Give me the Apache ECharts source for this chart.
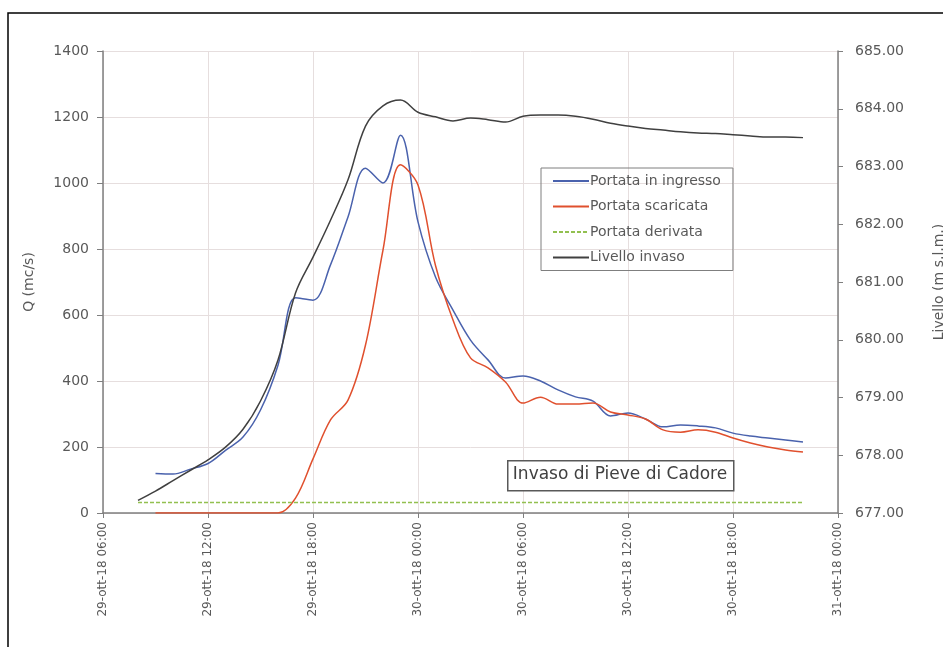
<!DOCTYPE html>
<html>
<head>
<meta charset="utf-8">
<script src="https://cdn.jsdelivr.net/npm/echarts@6/dist/echarts.min.js"></script>
<style>
html, body { margin: 0; padding: 0; background: #fff; }
#chart { width: 943px; height: 647px; }
</style>
</head>
<body>
<div id="chart"></div>
<script>
// ore dal 29-ott-18 00:00
var hours = [8, 9, 10, 11, 12, 13, 14, 15, 16, 17, 18, 19, 20, 21, 22, 23, 24, 25, 26, 27,
    28, 29, 30, 31, 32, 33, 34, 35, 36, 37, 38, 39, 40, 41, 42, 43, 44, 45, 46];

var xTickLabels = ['29-ott-18 06:00', '29-ott-18 12:00', '29-ott-18 18:00', '30-ott-18 00:00',
    '30-ott-18 06:00', '30-ott-18 12:00', '30-ott-18 18:00', '31-ott-18 00:00'];

// Portata in ingresso (mc/s)
var qIngresso = [null, 120, 118, 133, 150, 190, 230, 312, 448, 652, 645, 752, 897, 1045, 1000, 1145,
    882, 715, 615, 524, 464, 409, 415, 400, 373, 352, 339, 294, 303, 285, 261, 267, 264, 258,
    242, 233, 227, 221, 215];

// Portata scaricata (mc/s)
var qScaricata = [null, 0, 0, 0, 0, 0, 0, 0, 0, 45, 164, 282, 342, 509, 797, 1055,
    994, 750, 585, 470, 440, 397, 333, 351, 330, 330, 333, 306, 297, 285, 252, 245, 252, 245,
    227, 212, 200, 191, 185];

// Portata derivata (mc/s)
var qDerivata = [32, 32, 32, 32, 32, 32, 32, 32, 32, 32, 32, 32, 32, 32, 32, 32, 32, 32, 32, 32,
    32, 32, 32, 32, 32, 32, 32, 32, 32, 32, 32, 32, 32, 32, 32, 32, 32, 32, 32];

// Livello invaso (m s.l.m.)
var livello = [677.22, 677.38, 677.56, 677.74, 677.92, 678.14, 678.45, 678.94, 679.65, 680.81,
    681.43, 682.07, 682.77, 683.70, 684.05, 684.15, 683.94, 683.86, 683.79, 683.84, 683.81,
    683.77, 683.87, 683.89, 683.89, 683.87, 683.82, 683.75, 683.70, 683.66, 683.63, 683.60,
    683.58, 683.57, 683.55, 683.53, 683.51, 683.51, 683.50];

function pairs(vals) {
    var out = [];
    for (var i = 0; i < hours.length; i++) {
        if (vals[i] !== null) out.push([hours[i], vals[i]]);
    }
    return out;
}

var myChart = echarts.init(document.getElementById('chart'));
var txt = '#595959';
var gridCol = '#e6dede';
var font = 'DejaVu Sans';

var option = {
    animation: false,
    backgroundColor: '#fff',
    textStyle: { fontFamily: font },
    grid: { left: 103, right: 105, top: 51, bottom: 134, containLabel: false, outerBoundsMode: 'none' },
    legend: {
        orient: 'vertical',
        left: 541,
        top: 168,
        padding: [6, 12, 6, 11],
        itemGap: 11.5,
        itemWidth: 36,
        itemHeight: 17,
        borderColor: '#7f7f7f',
        borderWidth: 1,
        itemStyle: { opacity: 0 },
        textStyle: { color: txt, fontSize: 14, fontFamily: font, padding: [0, 0, 0, -4] },
        data: ['Portata in ingresso', 'Portata scaricata', 'Portata derivata', 'Livello invaso']
    },
    xAxis: {
        type: 'value',
        min: 6,
        max: 48,
        interval: 6,
        axisLine: { lineStyle: { color: '#7f7f7f', width: 1.5 } },
        axisTick: { show: true, length: 5, lineStyle: { color: '#7f7f7f' } },
        axisLabel: {
            rotate: 90,
            color: txt,
            fontSize: 12,
            margin: 9,
            formatter: function (v) {
                return xTickLabels[Math.round((v - 6) / 6)];
            }
        },
        splitLine: { show: true, lineStyle: { color: gridCol } }
    },
    yAxis: [
        {
            type: 'value',
            min: 0,
            max: 1400,
            interval: 200,
            name: 'Q (mc/s)',
            nameLocation: 'middle',
            nameGap: 67,
            nameTextStyle: { color: txt, fontSize: 14 },
            axisLine: { show: true, lineStyle: { color: '#7f7f7f', width: 1.5 } },
            axisTick: { show: true, length: 6, lineStyle: { color: '#7f7f7f' } },
            axisLabel: {
                color: txt,
                fontSize: 14,
                margin: 14,
                formatter: function (v) { return String(v); }
            },
            splitLine: { show: true, lineStyle: { color: gridCol } }
        },
        {
            type: 'value',
            min: 677,
            max: 685,
            interval: 1,
            name: 'Livello (m s.l.m.)',
            nameLocation: 'middle',
            nameGap: 94,
            nameRotate: 90,
            nameTextStyle: { color: txt, fontSize: 14 },
            axisLine: { show: true, lineStyle: { color: '#7f7f7f', width: 1.5 } },
            axisTick: { show: true, length: 5, lineStyle: { color: '#7f7f7f' } },
            axisLabel: {
                color: txt,
                fontSize: 14,
                margin: 17,
                formatter: function (v) { return v.toFixed(2); }
            },
            splitLine: { show: false }
        }
    ],
    series: [
        {
            name: 'Portata in ingresso',
            type: 'line',
            symbol: 'none',
            smooth: 0.35,
            color: '#4a62ad',
            lineStyle: { width: 1.5 },
            data: pairs(qIngresso)
        },
        {
            name: 'Portata scaricata',
            type: 'line',
            symbol: 'none',
            smooth: 0.35,
            color: '#e0502e',
            lineStyle: { width: 1.5 },
            data: pairs(qScaricata)
        },
        {
            name: 'Portata derivata',
            type: 'line',
            symbol: 'none',
            color: '#92c050',
            lineStyle: { width: 1.5, type: [4, 2] },
            data: pairs(qDerivata)
        },
        {
            name: 'Livello invaso',
            type: 'line',
            yAxisIndex: 1,
            symbol: 'none',
            smooth: 0.35,
            color: '#404040',
            lineStyle: { width: 1.5 },
            data: pairs(livello)
        }
    ],
    graphic: [
        {
            type: 'polyline',
            shape: { points: [[8, 647], [8, 13], [943, 13]] },
            style: { stroke: '#000', lineWidth: 1.5, fill: null }
        },
        {
            type: 'rect',
            left: 507,
            top: 460,
            shape: { width: 226, height: 30 },
            style: { fill: '#fff', stroke: '#595959', lineWidth: 1.5 },
            z: 10
        },
        {
            type: 'text',
            x: 620,
            y: 475,
            style: {
                text: 'Invaso di Pieve di Cadore',
                fill: '#404040',
                font: '17px "DejaVu Sans"',
                align: 'center',
                verticalAlign: 'middle'
            },
            z: 11
        }
    ]
};
myChart.setOption(option, true);
</script>
</body>
</html>
